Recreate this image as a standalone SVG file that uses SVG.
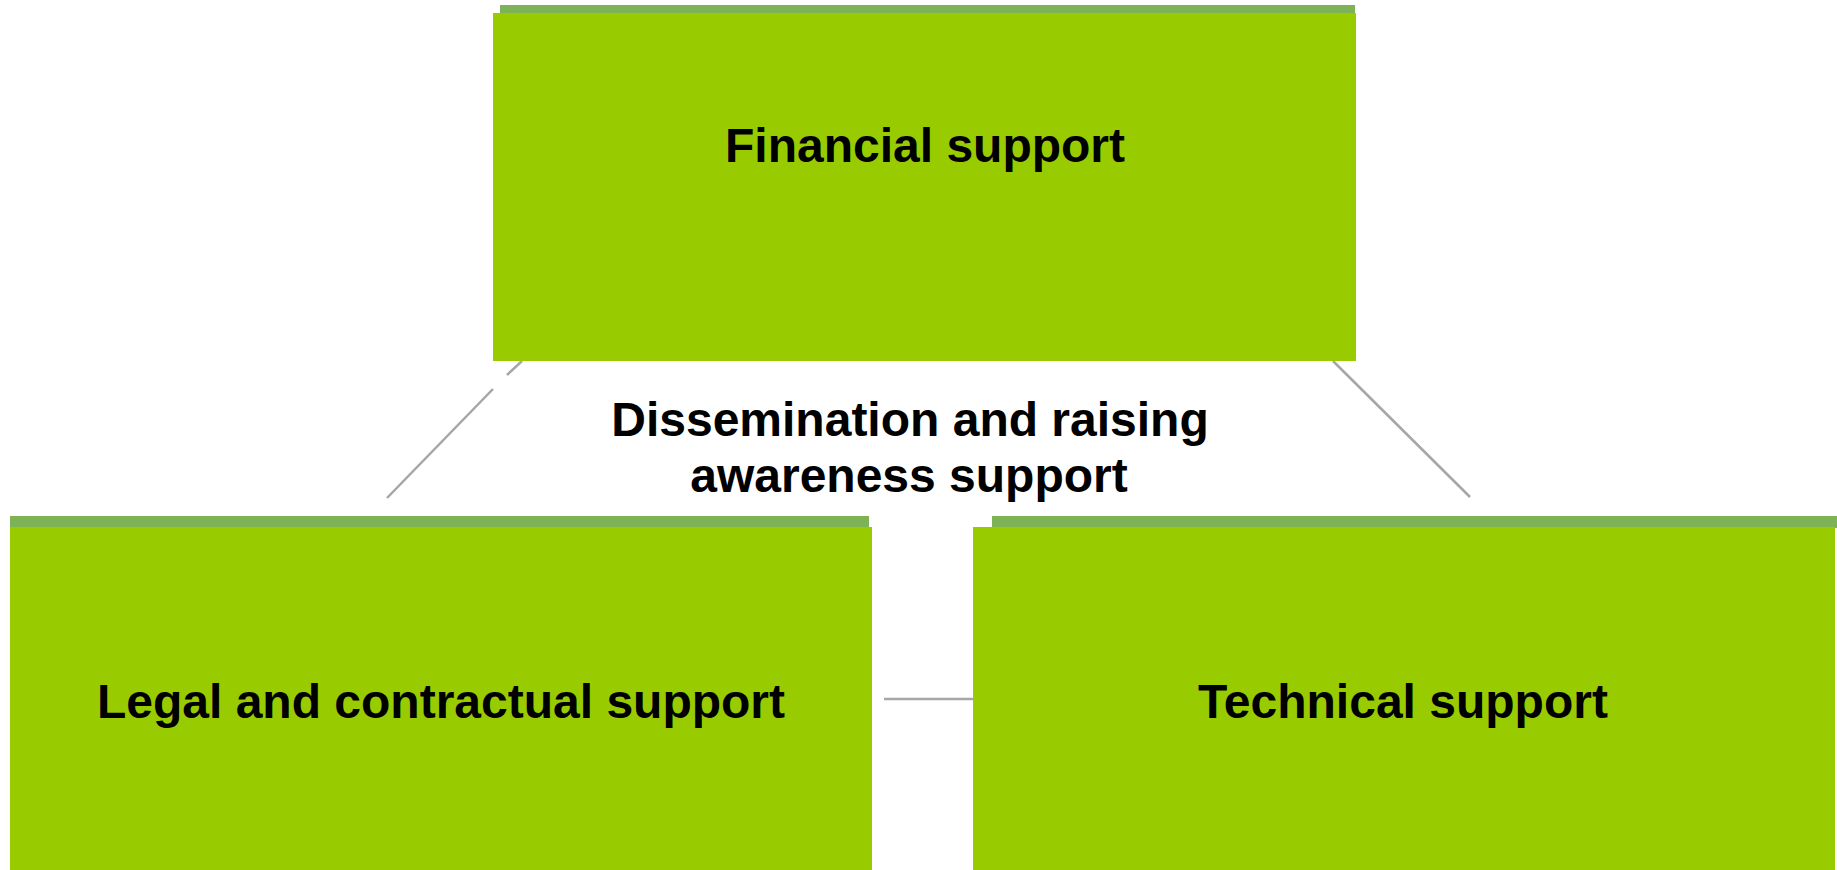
<svg xmlns="http://www.w3.org/2000/svg" width="1837" height="870" viewBox="0 0 1837 870">
<style>
.strip{fill:#7DB356}
.box{fill:#99CC00}
.conn{stroke:#A6A6A6;stroke-width:2.5;fill:none}
.t{font-family:"Liberation Sans",Arial,sans-serif;font-weight:bold;font-size:48px;fill:#000;text-anchor:middle}
</style>
<rect width="1837" height="870" fill="#FFFFFF"/>
<g id="connectors">
<line class="conn" x1="522" y1="361" x2="507" y2="375"/>
<line class="conn" x1="493" y1="389" x2="387" y2="498"/>
<line class="conn" x1="1333" y1="361" x2="1470" y2="497"/>
<line class="conn" x1="884" y1="699" x2="973" y2="699"/>
</g>
<g id="financial">
<rect class="strip" x="500" y="5" width="855" height="9"/>
<rect class="box" x="493" y="13" width="863" height="348"/>
<text class="t" x="925" y="162">Financial support</text>
</g>
<g id="dissemination">
<text class="t" x="910" y="436">Dissemination and raising</text>
<text class="t" x="909" y="492">awareness support</text>
</g>
<g id="legal">
<rect class="strip" x="10" y="516" width="859" height="12"/>
<rect class="box" x="10" y="527" width="862" height="343"/>
<text class="t" x="441" y="718">Legal and contractual support</text>
</g>
<g id="technical">
<rect class="strip" x="992" y="516" width="845" height="12"/>
<rect class="box" x="973" y="527" width="862" height="343"/>
<text class="t" x="1403" y="718">Technical support</text>
</g>
</svg>
